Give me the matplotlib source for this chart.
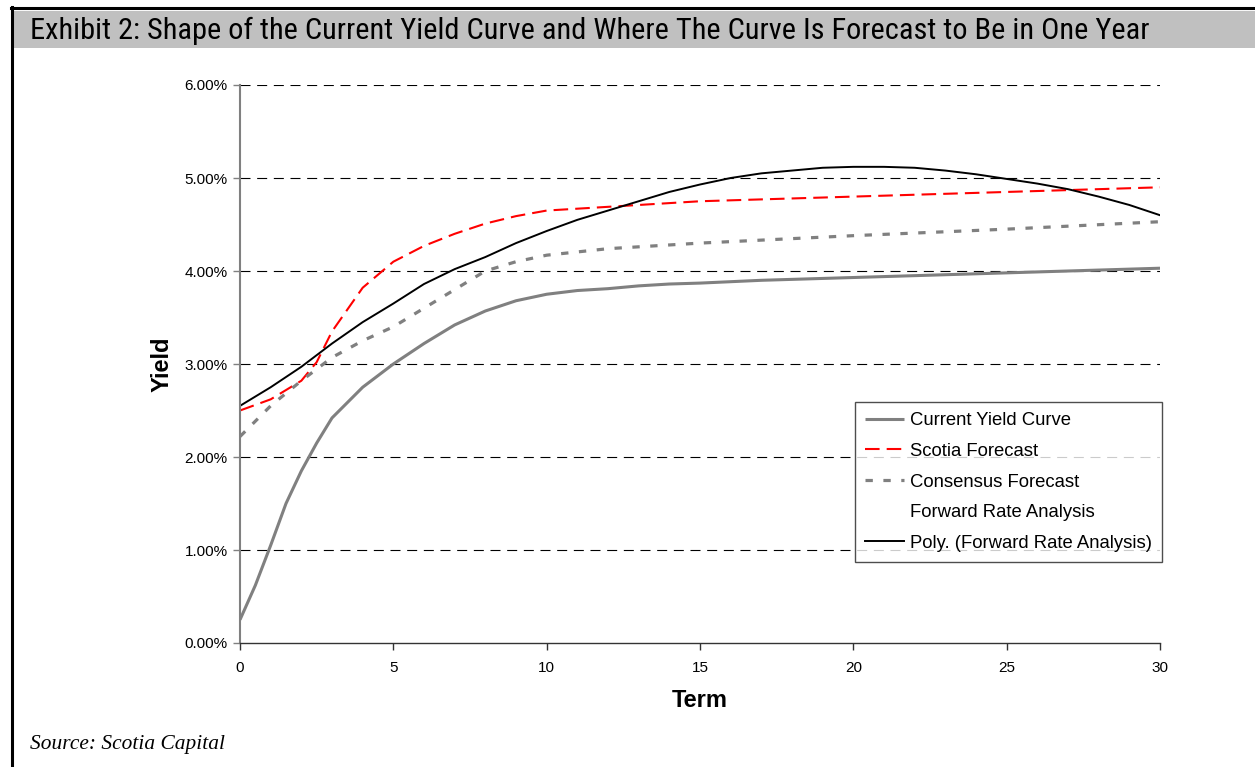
import matplotlib
matplotlib.use("Agg")
import matplotlib.pyplot as plt
from matplotlib.lines import Line2D
from matplotlib.patches import Rectangle
from matplotlib.ticker import FuncFormatter, MultipleLocator
from matplotlib import font_manager

# Yield curve data (term in years, yield in %)
current_term = [0, 0.5, 1, 1.5, 2, 2.5, 3, 4, 5, 6, 7, 8, 9, 10, 11, 12, 13, 14, 15, 17, 20, 25, 30]
current_yield = [0.25, 0.62, 1.05, 1.50, 1.85, 2.15, 2.42, 2.75, 3.00, 3.22, 3.42, 3.57, 3.68, 3.75,
                 3.79, 3.81, 3.84, 3.86, 3.87, 3.90, 3.93, 3.98, 4.03]

scotia_term = [0, 1, 2, 2.5, 3, 4, 5, 6, 7, 8, 9, 10, 12, 15, 20, 25, 30]
scotia_yield = [2.50, 2.62, 2.82, 3.02, 3.35, 3.82, 4.10, 4.27, 4.40, 4.51, 4.59, 4.65, 4.69, 4.75,
                4.80, 4.85, 4.90]

consensus_term = [0, 1, 2, 3, 4, 5, 6, 7, 8, 9, 10, 12, 15, 20, 25, 30]
consensus_yield = [2.22, 2.55, 2.82, 3.07, 3.25, 3.40, 3.60, 3.80, 4.00, 4.10, 4.17, 4.24, 4.30, 4.38,
                   4.45, 4.53]

poly_term = [0, 1, 2, 3, 4, 5, 6, 7, 8, 9, 10, 11, 12, 13, 14, 15, 16, 17, 18, 19, 20, 21, 22,
             23, 24, 25, 26, 27, 28, 29, 30]
poly_yield = [2.55, 2.75, 2.97, 3.22, 3.45, 3.65, 3.86, 4.02, 4.15, 4.30, 4.43, 4.55, 4.65, 4.75,
              4.85, 4.93, 5.00, 5.05, 5.08, 5.11, 5.12, 5.12, 5.11, 5.08, 5.04, 4.99, 4.94, 4.88,
              4.80, 4.71, 4.60]

series_labels = ["Current Yield Curve", "Scotia Forecast", "Consensus Forecast",
                 "Forward Rate Analysis", "Poly. (Forward Rate Analysis)"]

title_text = "Exhibit 2: Shape of the Current Yield Curve and Where The Curve Is Forecast to Be in One Year"
source_text = "Source: Scotia Capital"

installed = {f.name for f in font_manager.fontManager.ttflist}
narrow = "Liberation Sans"
for cand in ("Liberation Sans Narrow", "Roboto Condensed", "Open Sans Condensed", "Arial Narrow"):
    if cand in installed:
        narrow = cand
        break
plt.rcParams["font.family"] = ["Liberation Sans", "DejaVu Sans"]

W, H = 1255, 767
fig = plt.figure(figsize=(W / 100, H / 100), dpi=100)
fig.patch.set_facecolor("white")

def fx(px):
    return px / W

def fy(py):
    return 1 - py / H

# Page frame and title band
fig.add_artist(Rectangle((fx(13.5), fy(47.5)), fx(W) - fx(13.5), fy(11) - fy(47.5),
                         transform=fig.transFigure, facecolor="#c0c0c0", edgecolor="none"))
fig.add_artist(Line2D([fx(11), fx(W)], [fy(8.3), fy(8.3)], transform=fig.transFigure,
                      color="black", lw=2.2))
fig.add_artist(Line2D([fx(12.2), fx(12.2)], [fy(7.3), fy(H)], transform=fig.transFigure,
                      color="black", lw=2.2))
title = fig.text(fx(30), fy(31), title_text, fontsize=21, family=narrow,
                 va="center", ha="left")
# stretch/shrink the title so it spans the band
renderer = fig.canvas.get_renderer()
tw = title.get_window_extent(renderer).width
title.set_fontsize(21 * 1118 / tw)
fig.text(fx(30), fy(745), source_text, fontsize=15.4, family="Liberation Serif",
         style="italic", va="center", ha="left")

ax = fig.add_axes([fx(240), fy(643), fx(1160) - fx(240), fy(85) - fy(643)])

ax.plot(current_term, current_yield, color="#808080", lw=2.2, label=series_labels[0],
        solid_capstyle="butt")
ax.plot(scotia_term, scotia_yield, color="#ff0000", lw=1.5, ls=(0, (7, 3.4)),
        label=series_labels[1])
ax.plot(consensus_term, consensus_yield, color="#808080", lw=2.3, ls=(0, (2.3, 3.3)),
        label=series_labels[2], dash_capstyle="butt")
ax.plot([], [], ls="none", label=series_labels[3])
ax.plot(poly_term, poly_yield, color="black", lw=1.4, label=series_labels[4])

ax.set_xlim(0, 30)
ax.set_ylim(0, 6)
ax.xaxis.set_major_locator(MultipleLocator(5))
ax.yaxis.set_major_locator(MultipleLocator(1))
ax.yaxis.set_major_formatter(FuncFormatter(lambda v, p: f"{v:.2f}%"))

for yv in range(1, 7):
    ax.axhline(yv, color="black", lw=0.8, ls=(0, (9, 6)), zorder=0)

for side in ("top", "right"):
    ax.spines[side].set_visible(False)
ax.spines["left"].set_color("#808080")
ax.spines["left"].set_linewidth(1.5)
ax.spines["bottom"].set_color("#333333")
ax.spines["bottom"].set_linewidth(1)
ax.tick_params(axis="y", colors="#808080", labelcolor="black", length=5, width=1, labelsize=11, pad=4)
ax.tick_params(axis="x", colors="#333333", labelcolor="black", length=5, width=1, labelsize=11, pad=8)

ax.set_xlabel("Term", fontsize=17, fontweight="bold", labelpad=10)
ax.set_ylabel("Yield", fontsize=17, fontweight="bold", labelpad=8)

leg = ax.legend(loc="lower right", bbox_to_anchor=(1.002, 0.145), borderaxespad=0,
                fontsize=13.3, frameon=True, fancybox=False, edgecolor="#222222",
                labelspacing=0.74, handlelength=2.1, handletextpad=0.3, borderpad=0.55)
leg.get_frame().set_linewidth(1)

fig.savefig("out.png", dpi=100, facecolor="white")
